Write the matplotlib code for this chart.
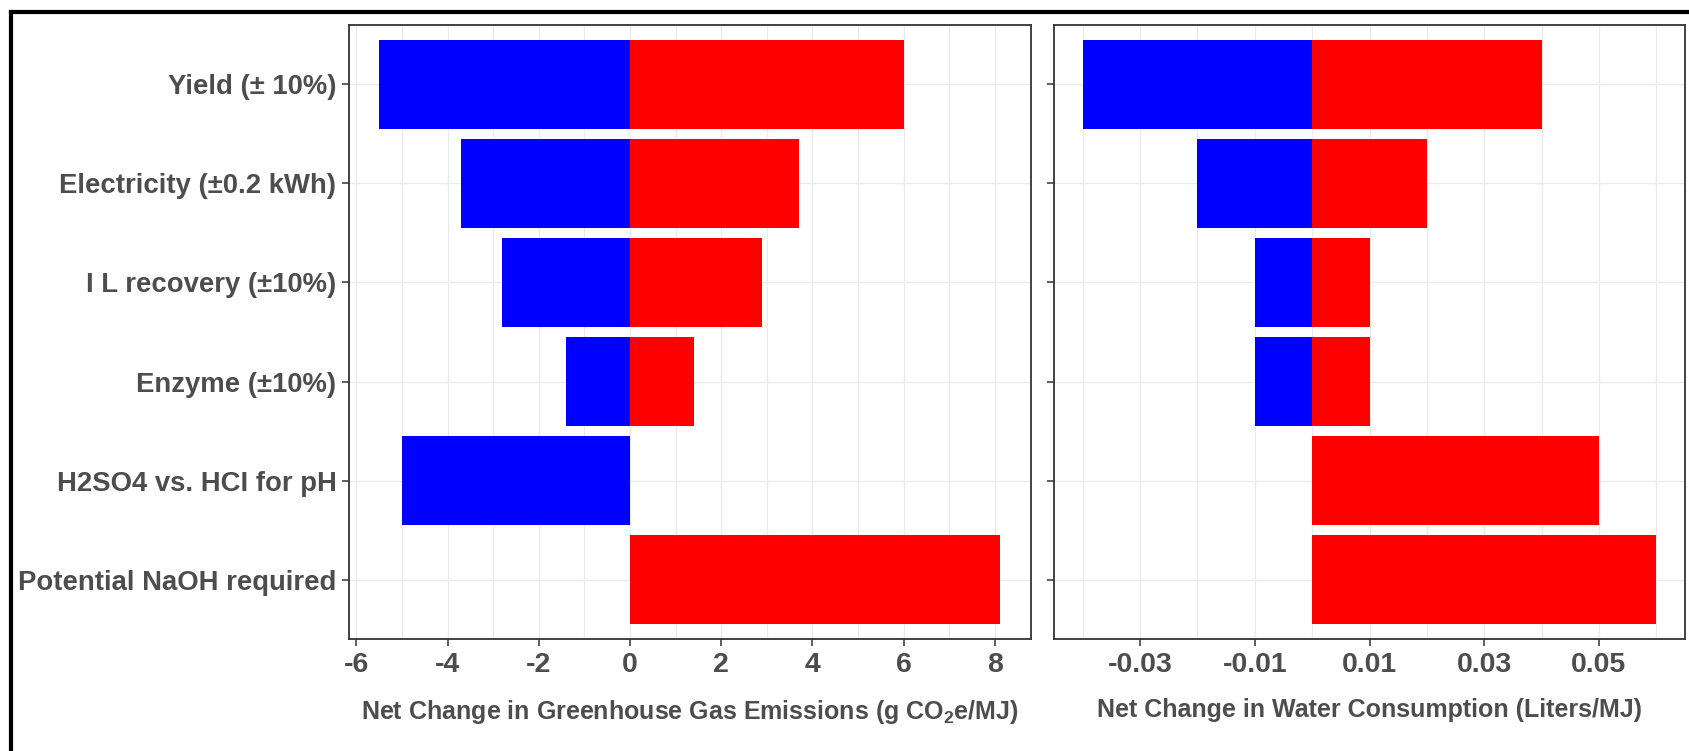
import matplotlib
matplotlib.use('Agg')
import matplotlib.pyplot as plt
from matplotlib.lines import Line2D
from matplotlib.ticker import MultipleLocator, FixedLocator

# categories, top to bottom
factors = ['Yield (± 10%)', 'Electricity (±0.2 kWh)', 'I L recovery (±10%)',
           'Enzyme (±10%)', 'H2SO4 vs. HCI for pH', 'Potential NaOH required']

# greenhouse gas panel (g CO2e/MJ)
ghg_low = [-5.5, -3.7, -2.8, -1.4, -5.0, 0.0]
ghg_high = [6.0, 3.7, 2.9, 1.4, 0.0, 8.1]

# water panel (Liters/MJ)
water_low = [-0.04, -0.02, -0.01, -0.01, 0.0, 0.0]
water_high = [0.04, 0.02, 0.01, 0.01, 0.05, 0.06]

ghg_ticks = [-6, -4, -2, 0, 2, 4, 6, 8]
water_ticks = [-0.03, -0.01, 0.01, 0.03, 0.05]
water_tick_labels = ['-0.03', '-0.01', '0.01', '0.03', '0.05']

text_col = '#4D4D4D'
plt.rcParams['font.family'] = ['Liberation Sans', 'DejaVu Sans']
plt.rcParams['font.weight'] = 'bold'
plt.rcParams['axes.labelweight'] = 'bold'

fig = plt.figure(figsize=(16.9, 7.51), dpi=100)
ax1 = fig.add_axes([349 / 1690, 112 / 751, 682 / 1690, 614 / 751])
ax2 = fig.add_axes([1054 / 1690, 112 / 751, 631 / 1690, 614 / 751])

ypos = list(range(len(factors)))


def style_panel(ax):
    ax.set_ylim(len(factors) - 0.4, -0.6)
    ax.grid(True, which='both', axis='x', color='#EBEBEB', linewidth=1.0)
    ax.grid(True, which='major', axis='y', color='#EBEBEB', linewidth=1.0)
    ax.set_axisbelow(True)
    for s in ax.spines.values():
        s.set_color('#333333')
        s.set_linewidth(1.3)
    ax.tick_params(axis='both', which='major', length=5, width=1.1, color='#333333',
                   labelcolor=text_col, pad=4)
    ax.tick_params(axis='x', which='minor', length=0)
    ax.tick_params(axis='x', labelsize=20.5, pad=4)


# left panel
ax1.barh(ypos, ghg_low, height=0.9, color='#0000FF')
ax1.barh(ypos, ghg_high, height=0.9, color='#FF0000')
ax1.set_xlim(-6.16, 8.79)
ax1.set_xticks(ghg_ticks)
ax1.set_xticklabels([str(t) for t in ghg_ticks])
ax1.xaxis.set_minor_locator(MultipleLocator(1))
ax1.set_yticks(ypos)
ax1.set_yticklabels(factors, fontsize=19.8)
style_panel(ax1)
ax1.set_xlabel(r'Net Change in Greenhouse Gas Emissions (g CO$_\mathregular{2}$e/MJ)',
               fontsize=18, color=text_col, labelpad=15)

# right panel
ax2.barh(ypos, water_low, height=0.9, color='#0000FF')
ax2.barh(ypos, water_high, height=0.9, color='#FF0000')
ax2.set_xlim(-0.045, 0.065)
ax2.set_xticks(water_ticks)
ax2.set_xticklabels(water_tick_labels)
ax2.xaxis.set_minor_locator(FixedLocator([-0.04, -0.02, 0.0, 0.02, 0.04, 0.06]))
ax2.set_yticks(ypos)
ax2.set_yticklabels([''] * len(factors))
style_panel(ax2)
ax2.set_xlabel('Net Change in Water Consumption (Liters/MJ)',
               fontsize=18, color=text_col, labelpad=15)

# black frame around the figure (only top and left visible)
fig.add_artist(Line2D([11 / 1690, 1.0], [1 - 12 / 751, 1 - 12 / 751],
                      transform=fig.transFigure, color='black', linewidth=3))
fig.add_artist(Line2D([11 / 1690, 11 / 1690], [0.0, 1 - 12 / 751],
                      transform=fig.transFigure, color='black', linewidth=3))

fig.savefig('out.png', dpi=100, facecolor='white')
